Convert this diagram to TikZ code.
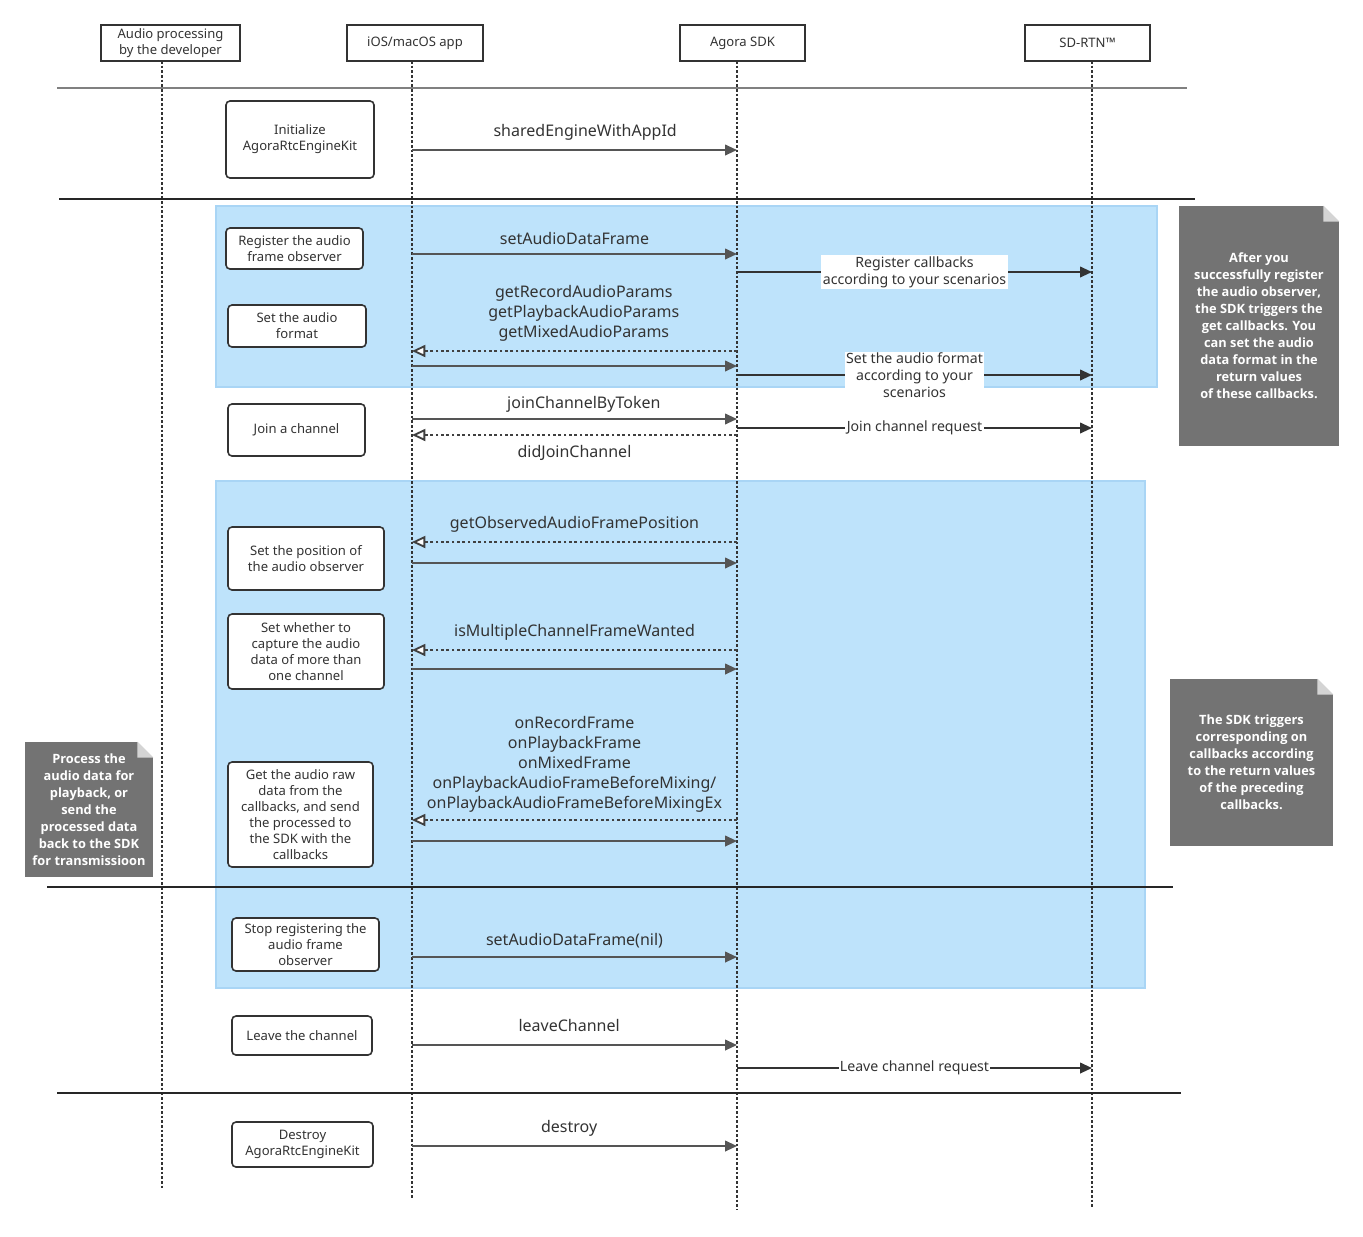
\documentclass[tikz,border=0pt]{standalone}
\usepackage{fontspec}
\setmainfont{Noto Sans}
\newfontfamily\notefont{Open Sans}
\usetikzlibrary{positioning,arrows.meta,calc}

\definecolor{laneblue}{HTML}{BEE3FB}
\definecolor{laneedge}{HTML}{A9D5F5}
\definecolor{notegray}{HTML}{737373}
\definecolor{foldgray}{HTML}{D4D4D4}
\definecolor{linegray}{HTML}{555555}

\begin{document}
\begin{tikzpicture}[
  x=0.75pt, y=-0.75pt,
  every node/.style={font=\fontsize{9.8}{12}\selectfont, text=black!80},
  head/.style={draw=black!80, line width=1.2pt, minimum height=27pt,
               align=center, inner sep=1pt},
  stepbox/.style={draw=black!80, line width=1.2pt, rounded corners=3pt,
                  fill=white, align=center, inner sep=2pt},
  life/.style={black!80, line width=1.1pt, dash pattern=on 2pt off 1.5pt},
  sep/.style={black!85, line width=1.1pt},
  lane/.style={fill=laneblue, draw=laneedge, line width=1pt},
  call/.style={linegray, line width=1.4pt, -{Triangle[length=9pt,width=8pt]}},
  back/.style={black!75, line width=1.4pt, dash pattern=on 2pt off 2pt,
               -{Triangle[open,length=10pt,width=9pt,fill=white]}},
  net/.style={black!80, line width=1.4pt, -{Triangle[length=9pt,width=8pt]}},
  msg/.style={font=\fontsize{12}{15}\selectfont, align=center},
  netlbl/.style={fill=white, inner sep=1pt, align=center,
                 font=\fontsize{10.6}{12.5}\selectfont},
  note/.style={fill=notegray, text=white, align=center,
               font=\notefont\bfseries\fontsize{9.6}{12.75}\selectfont}
]
\useasboundingbox (0,0) rectangle (1363,1236);

% shaded groups
\draw[lane] (216,206) rectangle (1157,387);
\draw[lane] (216,481) rectangle (1145,988);

% participants
\node[head, minimum width=104pt] (dev) at (170.5,43) {Audio processing\\by the developer};
\node[head, minimum width=102pt] (app) at (415,43) {iOS/macOS app};
\node[head, minimum width=94pt] (sdk) at (742.5,43) {Agora SDK};
\node[head, minimum width=94pt] (rtn) at (1087.5,43) {SD-RTN\texttrademark};

% lifelines
\coordinate (devT) at (162,61);  \coordinate (devB) at (162,1190);
\coordinate (appT) at (412,61);  \coordinate (appB) at (412,1198);
\coordinate (sdkT) at (737,61);  \coordinate (sdkB) at (737,1210);
\coordinate (rtnT) at (1092,61); \coordinate (rtnB) at (1092,1207);
\draw[life] (devT) -- (devB);
\draw[life] (appT) -- (appB);
\draw[life] (sdkT) -- (sdkB);
\draw[life] (rtnT) -- (rtnB);

% separators
\draw[black!50, line width=1.1pt] (57,88) -- (1187,88);
\draw[sep] (59,199) -- (1195,199);
\draw[sep] (47,887) -- (1173,887);
\draw[sep] (57,1093) -- (1181,1093);

% steps
\node[stepbox, minimum width=111pt, minimum height=57.75pt] (init) at (300,139.5) {Initialize\\AgoraRtcEngineKit};
\node[stepbox, minimum width=102.75pt, minimum height=30.75pt] (reg) at (294.5,248.5) {Register the audio\\frame observer};
\node[stepbox, minimum width=103.5pt, minimum height=31.5pt] (fmt) at (297,326) {Set the audio\\format};
\node[stepbox, minimum width=102.75pt, minimum height=39pt] (join) at (296.5,430) {Join a channel};
\node[stepbox, minimum width=117pt, minimum height=47.25pt] (pos) at (306,558.5) {Set the position of\\the audio observer};
\node[stepbox, minimum width=117pt, minimum height=56.25pt] (multi) at (306,651.5) {Set whether to\\capture the audio\\data of more than\\one channel};
\node[stepbox, minimum width=108.75pt, minimum height=78.75pt] (raw) at (300.5,814.5) {Get the audio raw\\data from the\\callbacks, and send\\the processed to\\the SDK with the\\callbacks};
\node[stepbox, minimum width=110.25pt, minimum height=39.75pt] (stop) at (305.5,944.5) {Stop registering the\\audio frame\\observer};
\node[stepbox, minimum width=105pt, minimum height=29.25pt] (leave) at (302,1035.5) {Leave the channel};
\node[stepbox, minimum width=105.75pt, minimum height=33.75pt] (destroy) at (302.5,1144.5) {Destroy\\AgoraRtcEngineKit};

% message rows
\coordinate (m1) at (0,150);   \coordinate (m2) at (0,254);
\coordinate (m3) at (0,272);   \coordinate (m4) at (0,351);
\coordinate (m5) at (0,366);   \coordinate (m6) at (0,375);
\coordinate (m7) at (0,419);   \coordinate (m8) at (0,428);
\coordinate (m9) at (0,435);   \coordinate (m10) at (0,542);
\coordinate (m11) at (0,563);  \coordinate (m12) at (0,650);
\coordinate (m13) at (0,669);  \coordinate (m14) at (0,820);
\coordinate (m15) at (0,841);  \coordinate (m16) at (0,957);
\coordinate (m17) at (0,1045); \coordinate (m18) at (0,1068);
\coordinate (m19) at (0,1146);

\draw[call] (appT |- m1) -- node[msg, above=3pt, xshift=8pt] {sharedEngineWithAppId} (sdkT |- m1);
\draw[call] (appT |- m2) -- node[msg, above=3pt] {setAudioDataFrame} (sdkT |- m2);
\draw[net] (sdkT |- m3) -- node[netlbl] {Register callbacks\\according to your scenarios} (rtnT |- m3);
\draw[back] (sdkT |- m4) -- node[msg, above=3pt, xshift=7pt] {getRecordAudioParams\\getPlaybackAudioParams\\getMixedAudioParams} (appT |- m4);
\draw[call] (appT |- m5) -- (sdkT |- m5);
\draw[net] (sdkT |- m6) -- node[netlbl] {Set the audio format\\according to your\\scenarios} (rtnT |- m6);
\draw[call] (appT |- m7) -- node[msg, above=1pt, xshift=7pt] {joinChannelByToken} (sdkT |- m7);
\draw[net] (sdkT |- m8) -- node[netlbl] {Join channel request} (rtnT |- m8);
\draw[back] (sdkT |- m9) -- node[msg, below=4pt] {didJoinChannel} (appT |- m9);
\draw[back] (sdkT |- m10) -- node[msg, above=3pt] {getObservedAudioFramePosition} (appT |- m10);
\draw[call] (appT |- m11) -- (sdkT |- m11);
\draw[back] (sdkT |- m12) -- node[msg, above=3pt] {isMultipleChannelFrameWanted} (appT |- m12);
\draw[call] (appT |- m13) -- (sdkT |- m13);
\draw[back] (sdkT |- m14) -- node[msg, above=2pt] {onRecordFrame\\onPlaybackFrame\\onMixedFrame\\onPlaybackAudioFrameBeforeMixing/\\onPlaybackAudioFrameBeforeMixingEx} (appT |- m14);
\draw[call] (appT |- m15) -- (sdkT |- m15);
\draw[call] (appT |- m16) -- node[msg, above=3pt] {setAudioDataFrame(nil)} (sdkT |- m16);
\draw[call] (appT |- m17) -- node[msg, above=6pt, xshift=-4pt] {leaveChannel} (sdkT |- m17);
\draw[net] (sdkT |- m18) -- node[netlbl] {Leave channel request} (rtnT |- m18);
\draw[call] (appT |- m19) -- node[msg, above=3pt, xshift=-4pt] {destroy} (sdkT |- m19);

% notes
\node[note, minimum width=120pt, minimum height=180pt] (n1) at (1259,326)
  {After you\\successfully register\\the audio observer,\\the SDK triggers the\\get callbacks. You\\can set the audio\\data format in the\\return values\\of these callbacks.};
\node[note, minimum width=122.25pt, minimum height=125.25pt] (n2) at (1251.5,762.5)
  {The SDK triggers\\corresponding on\\callbacks according\\to the return values\\of the preceding\\callbacks.};
\node[note, minimum width=96pt, minimum height=101.25pt] (n3) at (89,809.5)
  {Process the\\audio data for\\playback, or\\send the\\processed data\\back to the SDK\\for transmissioon};
\foreach \n in {n1,n2,n3} {
  \fill[white] ($(\n.north east)+(-12pt,0)$) -- (\n.north east) -- ($(\n.north east)+(0,-12pt)$) -- cycle;
  \fill[foldgray] ($(\n.north east)+(-12pt,0)$) -- ($(\n.north east)+(0,-12pt)$) -- ($(\n.north east)+(-12pt,-12pt)$) -- cycle;
}
\end{tikzpicture}
\end{document}
